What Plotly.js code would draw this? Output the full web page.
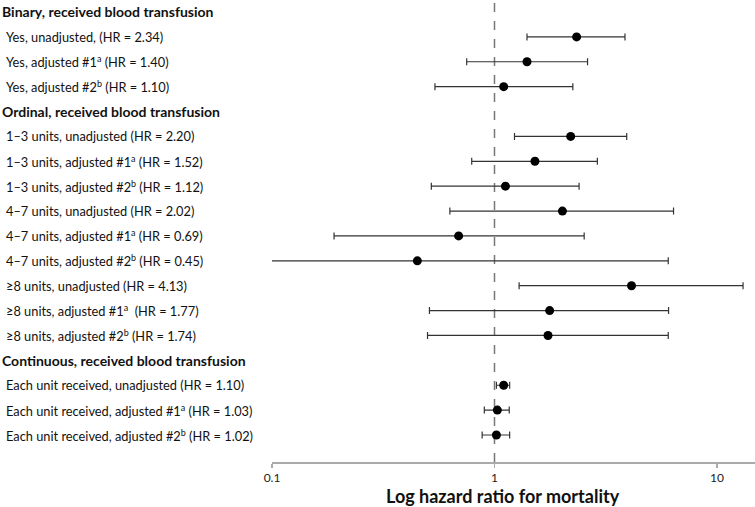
<!DOCTYPE html>
<html>
<head>
<meta charset="utf-8">
<script src="https://cdn.plot.ly/plotly-3.0.1.min.js"></script>
<style>html,body{margin:0;padding:0;background:#fff;}#chart{width:755px;height:507px;}</style>
</head>
<body>
<div id="chart"></div>
<script>
// Row labels (headers have null values)
const labels = [
  "Binary, received blood transfusion",
  "Yes, unadjusted, (HR = 2.34)",
  "Yes, adjusted #1<sup>a</sup> (HR = 1.40)",
  "Yes, adjusted #2<sup>b</sup> (HR = 1.10)",
  "Ordinal, received blood transfusion",
  "1–3 units, unadjusted (HR = 2.20)",
  "1–3 units, adjusted #1<sup>a</sup> (HR = 1.52)",
  "1–3 units, adjusted #2<sup>b</sup> (HR = 1.12)",
  "4–7 units, unadjusted (HR = 2.02)",
  "4–7 units, adjusted #1<sup>a</sup> (HR = 0.69)",
  "4–7 units, adjusted #2<sup>b</sup> (HR = 0.45)",
  "≥8 units, unadjusted (HR = 4.13)",
  "≥8 units, adjusted #1<sup>a</sup>  (HR = 1.77)",
  "≥8 units, adjusted #2<sup>b</sup> (HR = 1.74)",
  "Continuous, received blood transfusion",
  "Each unit received, unadjusted (HR = 1.10)",
  "Each unit received, adjusted #1<sup>a</sup> (HR = 1.03)",
  "Each unit received, adjusted #2<sup>b</sup> (HR = 1.02)"
];
const isHeader = [true,false,false,false,true,false,false,false,false,false,false,false,false,false,true,false,false,false];
const hr   = [null,2.34,1.40,1.10,null,2.20,1.52,1.12,2.02,0.69,0.45,4.13,1.77,1.74,null,1.10,1.03,1.02];
const ciLo = [null,1.40,0.75,0.54,null,1.23,0.79,0.52,0.63,0.19,0.09,1.29,0.51,0.50,null,1.02,0.90,0.88];
const ciHi = [null,3.86,2.62,2.25,null,3.93,2.90,2.40,6.38,2.53,6.04,13.1,6.06,6.04,null,1.17,1.165,1.17];
const tickVals = [0.1, 1, 10];
const tickText = ["0.1", "1", "10"];
const xTitle = "Log hazard ratio for mortality";

const rowIdx = labels.map((_, i) => i);
const errPlus = hr.map((v, i) => v == null ? null : ciHi[i] - v);
const errMinus = hr.map((v, i) => v == null ? null : v - ciLo[i]);

const trace = {
  type: 'scatter', mode: 'markers',
  x: hr, y: rowIdx,
  marker: {color: '#000', size: 9},
  error_x: {type: 'data', symmetric: false, array: errPlus, arrayminus: errMinus,
            color: '#333', thickness: 1.2, width: 3.5},
  hoverinfo: 'x', showlegend: false, cliponaxis: false
};

const FONT = 'Lato, "Open Sans", sans-serif';
const annotations = labels.map((t, i) => ({
  xref: 'paper', yref: 'y', x: isHeader[i] ? 0 : 0.005, y: i,
  xanchor: 'left', yanchor: 'middle', showarrow: false,
  text: isHeader[i] ? '<b>' + t + '</b>' : t,
  font: {family: FONT, size: isHeader[i] ? 14 : 12.8, color: '#111'}
}));
annotations.push({
  xref: 'paper', yref: 'paper', x: 503 / 755, y: -34 / 462,
  xanchor: 'center', yanchor: 'middle', showarrow: false,
  text: '<b>' + xTitle + '</b>',
  font: {family: FONT, size: 18, color: '#111'}
});

const layout = {
  width: 755, height: 507,
  margin: {l: 0, r: 0, t: 0, b: 45},
  paper_bgcolor: '#fff', plot_bgcolor: '#fff',
  xaxis: {
    type: 'log', domain: [0.3603, 1], range: [-1, 1.171],
    tickvals: tickVals, ticktext: tickText,
    showgrid: false, zeroline: false,
    showline: true, linecolor: '#aaa', linewidth: 1.5,
    ticks: 'outside', ticklen: 4, tickcolor: '#aaa', tickwidth: 1.5,
    tickfont: {family: FONT, size: 12, color: '#222'}
  },
  yaxis: {
    range: [18.085, -0.482], showgrid: false, zeroline: false,
    showline: false, showticklabels: false, ticks: ''
  },
  shapes: [{type: 'line', xref: 'x', yref: 'paper', x0: 1, x1: 1, y0: 0, y1: 1,
            line: {color: '#777', width: 1.5, dash: 'dash'}, layer: 'below'}],
  annotations: annotations
};

Plotly.newPlot('chart', [trace], layout, {displayModeBar: false, staticPlot: true});
</script>
</body>
</html>
